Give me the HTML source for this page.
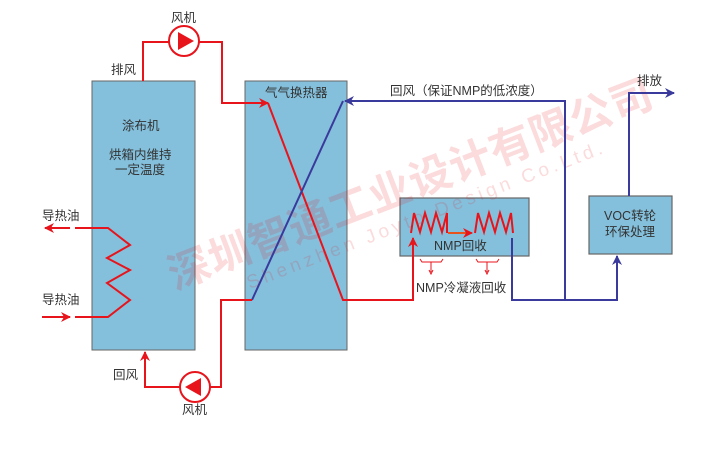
<!DOCTYPE html>
<html><head><meta charset="utf-8"><style>
body{margin:0;background:#fff;}
svg text{font-family:"Liberation Sans","Noto Sans CJK SC",sans-serif;fill:#333;font-size:12.5px;}
</style></head><body>
<svg width="719" height="450" viewBox="0 0 719 450" xmlns="http://www.w3.org/2000/svg">
<defs>
<marker id="ar" markerWidth="10" markerHeight="10" refX="9" refY="5" orient="auto" markerUnits="userSpaceOnUse"><path d="M0,0 L10,5 L0,10 L3,5 Z" fill="#e8141c"/></marker>
<marker id="ab" markerWidth="10" markerHeight="10" refX="9" refY="5" orient="auto" markerUnits="userSpaceOnUse"><path d="M0,0 L10,5 L0,10 L3,5 Z" fill="#3a3a9c"/></marker>
</defs>
<rect x="92" y="81" width="103" height="269" fill="#84c0dc" stroke="#666" stroke-width="1"/>
<rect x="245" y="81" width="102" height="269" fill="#84c0dc" stroke="#666" stroke-width="1"/>
<rect x="400" y="198" width="129" height="58" fill="#84c0dc" stroke="#666" stroke-width="1.2"/>
<rect x="589" y="196" width="83" height="58" fill="#84c0dc" stroke="#666" stroke-width="1.2"/>
<!-- watermark -->
<g opacity="0.15" transform="rotate(-21 175 290)">
<text x="175" y="290" style="font-size:42px;fill:#e8141c;font-weight:bold;letter-spacing:1px">深圳智通工业设计有限公司</text>
<text x="245" y="316" style="font-size:19px;fill:#e8141c;letter-spacing:4px">Shenzhen Joyto Design Co.Ltd.</text>
</g>
<polyline points="143,81 143,42 169,42" fill="none" stroke="#e8141c" stroke-width="2"/>
<polyline points="199,42 222,42 222,103 268,103" fill="none" stroke="#e8141c" stroke-width="2" marker-end="url(#ar)"/>
<circle cx="184" cy="41" r="15" fill="#fff" stroke="#e8141c" stroke-width="2"/>
<path d="M178,32 L194,41 L178,50 Z" fill="#e8141c"/>
<polyline points="268,103 343,300 413,300 413,238" fill="none" stroke="#e8141c" stroke-width="2" marker-end="url(#ar)"/>
<line x1="252" y1="300" x2="343" y2="101" stroke="#3a3a9c" stroke-width="2"/>
<polyline points="252,300 221,300 221,387 210,387" fill="none" stroke="#e8141c" stroke-width="2"/>
<polyline points="180,387 145,387 145,352" fill="none" stroke="#e8141c" stroke-width="2" marker-end="url(#ar)"/>
<circle cx="195" cy="387" r="15" fill="#fff" stroke="#e8141c" stroke-width="2"/>
<path d="M201,378 L185,387 L201,396 Z" fill="#e8141c"/>
<polyline points="70,228 45,228" fill="none" stroke="#e8141c" stroke-width="2" marker-end="url(#ar)"/>
<polyline points="75,228 108,228 130,245 107,258 130,270 107,283 130,300 108,317 75,317" fill="none" stroke="#e8141c" stroke-width="2"/>
<polyline points="42,317 70,317" fill="none" stroke="#e8141c" stroke-width="2" marker-end="url(#ar)"/>
<polyline points="411,233 414,213 420,232 425,213 431,232 436,213 442,232 447,213 447,233" fill="none" stroke="#e8141c" stroke-width="2"/>
<polyline points="475,233 478,213 484,232 489,213 495,232 500,213 506,232 511,213 513,233" fill="none" stroke="#e8141c" stroke-width="2"/>
<line x1="448" y1="233" x2="472" y2="233" stroke="#e8541c" stroke-width="2" marker-end="url(#ar)"/>
<g stroke="#e8141c" stroke-width="1" fill="none">
<polyline points="420,259 422,262 441,262 443,259"/><line x1="431" y1="262" x2="431" y2="272"/><path d="M429,270 L431,274 L433,270" />
<polyline points="476,259 478,262 497,262 499,259"/><line x1="487" y1="262" x2="487" y2="272"/><path d="M485,270 L487,274 L489,270"/>
</g>
<polyline points="565,300 565,101 345,101" fill="none" stroke="#3a3a9c" stroke-width="2" marker-end="url(#ab)"/>
<polyline points="512,238 512,300 617,300 617,256" fill="none" stroke="#3a3a9c" stroke-width="2" marker-end="url(#ab)"/>
<polyline points="629,196 629,93 674,93" fill="none" stroke="#3a3a9c" stroke-width="2" marker-end="url(#ab)"/>
<text x="171" y="22">风机</text>
<text x="111" y="74">排风</text>
<text x="122" y="130">涂布机</text>
<text x="109" y="159">烘箱内维持</text>
<text x="115" y="174">一定温度</text>
<text x="265" y="97">气气换热器</text>
<text x="390" y="95">回风（保证NMP的低浓度）</text>
<text x="637" y="85">排放</text>
<text x="434" y="250">NMP回收</text>
<text x="416" y="292">NMP冷凝液回收</text>
<text x="604" y="220">VOC转轮</text>
<text x="605" y="236">环保处理</text>
<text x="42" y="220">导热油</text>
<text x="42" y="304">导热油</text>
<text x="113" y="379">回风</text>
<text x="182" y="414">风机</text>
</svg>
</body></html>
